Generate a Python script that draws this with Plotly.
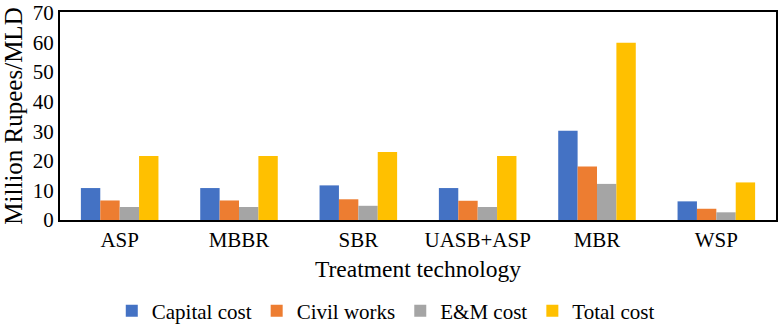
import plotly.graph_objects as go

categories = ["ASP", "MBBR", "SBR", "UASB+ASP", "MBR", "WSP"]
capital_cost = [10.8, 10.8, 11.7, 10.8, 30.2, 6.3]
civil_works = [6.6, 6.6, 7.0, 6.5, 18.1, 3.8]
em_cost = [4.4, 4.4, 4.8, 4.4, 12.2, 2.6]
total_cost = [21.6, 21.6, 23.0, 21.6, 59.9, 12.7]
series_names = ["Capital cost", "Civil works", "E&M cost", "Total cost"]
colors = ["#4472C4", "#ED7D31", "#A5A5A5", "#FFC000"]

fig = go.Figure()
for name, vals, col in zip(series_names, [capital_cost, civil_works, em_cost, total_cost], colors):
    fig.add_trace(go.Bar(x=categories, y=vals, name=name, marker_color=col, marker_line_width=0))

font = "Liberation Serif, Times New Roman, serif"
fig.update_layout(
    width=778, height=329,
    margin=dict(l=60, r=2, t=12, b=109, autoexpand=False),
    plot_bgcolor="white", paper_bgcolor="white",
    barmode="group", bargap=0.35, bargroupgap=0,
    font=dict(family=font, size=21, color="black"),
    legend=dict(orientation="h", x=0.455, xanchor="center", y=-0.34, yanchor="top",
                font=dict(size=21), itemwidth=30, traceorder="normal",
                tracegroupgap=0),
    xaxis=dict(title=dict(text="Treatment technology", font=dict(size=23.5), standoff=9),
               showline=True, linecolor="black", linewidth=2, mirror=True,
               ticks="", tickfont=dict(size=21), automargin=False),
    yaxis=dict(title=dict(text="Million Rupees/MLD", font=dict(size=25), standoff=5),
               range=[0, 70.3], tickvals=[0, 10, 20, 30, 40, 50, 60, 70],
               showgrid=False, zeroline=False, ticklabeloverflow="allow",
               showline=True, linecolor="black", linewidth=2, mirror=True,
               ticks="", tickfont=dict(size=21), automargin=False),
)
fig.write_html("out.html", config={"displayModeBar": False},
               post_script="document.body.style.margin='0';document.body.style.padding='0';")
